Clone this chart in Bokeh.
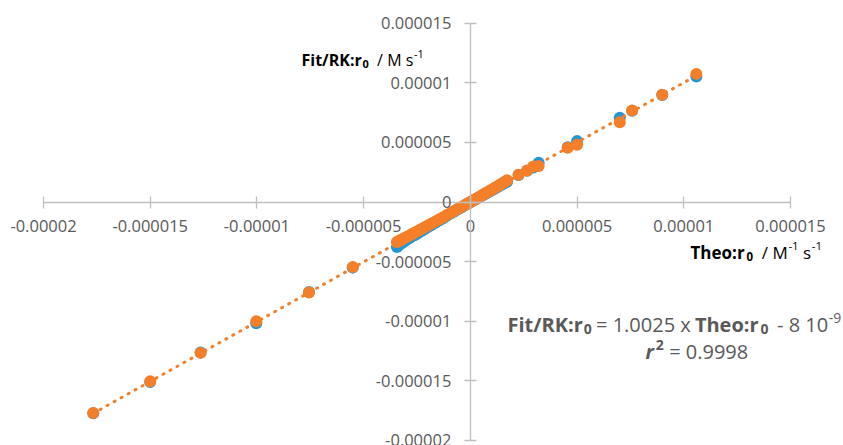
from bokeh.plotting import figure
from bokeh.models import Range1d, FixedTicker, Label, ColumnDataSource
from bokeh.embed import file_html
from bokeh.resources import INLINE

# ---------------- data ----------------
theo = [-17.67e-6, -15.00e-6, -12.64e-6, -10.03e-6, -7.56e-6, -5.51e-6,
        -3.44e-6, -3.38e-6, -3.30e-6, -3.22e-6, -3.15e-6, -3.05e-6, -2.95e-6, -2.85e-6,
        -2.75e-6, -2.62e-6, -2.50e-6, -2.38e-6, -2.25e-6, -2.10e-6, -1.95e-6, -1.80e-6,
        -1.62e-6, -1.45e-6, -1.28e-6, -1.10e-6, -0.92e-6, -0.75e-6, -0.58e-6, -0.42e-6,
        -0.28e-6, -0.15e-6, -0.05e-6,
        0.05e-6, 0.15e-6, 0.25e-6, 0.35e-6, 0.45e-6, 0.55e-6, 0.65e-6, 0.75e-6, 0.85e-6,
        0.95e-6, 1.05e-6, 1.15e-6, 1.25e-6, 1.35e-6, 1.48e-6, 1.60e-6, 1.72e-6,
        2.26e-6, 2.66e-6, 2.95e-6, 3.20e-6, 4.56e-6, 5.00e-6, 7.00e-6, 7.58e-6, 8.99e-6, 10.59e-6]

fit = [-17.72e-6, -15.10e-6, -12.62e-6, -10.16e-6, -7.55e-6, -5.50e-6,
       -3.78e-6, -3.66e-6, -3.55e-6, -3.45e-6, -3.36e-6, -3.24e-6, -3.13e-6, -3.02e-6,
       -2.90e-6, -2.78e-6, -2.66e-6, -2.52e-6, -2.38e-6, -2.22e-6, -2.06e-6, -1.90e-6,
       -1.72e-6, -1.53e-6, -1.36e-6, -1.16e-6, -0.97e-6, -0.79e-6, -0.61e-6, -0.45e-6,
       -0.30e-6, -0.17e-6, -0.06e-6,
       0.04e-6, 0.14e-6, 0.24e-6, 0.34e-6, 0.44e-6, 0.54e-6, 0.64e-6, 0.74e-6, 0.84e-6,
       0.94e-6, 1.04e-6, 1.14e-6, 1.24e-6, 1.34e-6, 1.47e-6, 1.59e-6, 1.71e-6,
       2.27e-6, 2.63e-6, 2.90e-6, 3.30e-6, 4.60e-6, 5.11e-6, 7.07e-6, 7.66e-6, 8.97e-6, 10.53e-6]

rk = [-17.70e-6, -15.03e-6, -12.65e-6, -9.99e-6, -7.59e-6, -5.44e-6,
      -3.35e-6, -3.30e-6, -3.22e-6, -3.15e-6, -3.08e-6, -2.98e-6, -2.90e-6, -2.80e-6,
      -2.70e-6, -2.58e-6, -2.46e-6, -2.35e-6, -2.22e-6, -2.08e-6, -1.93e-6, -1.78e-6,
      -1.60e-6, -1.44e-6, -1.27e-6, -1.09e-6, -0.91e-6, -0.74e-6, -0.57e-6, -0.42e-6,
      -0.27e-6, -0.15e-6, -0.05e-6,
      0.05e-6, 0.16e-6, 0.26e-6, 0.36e-6, 0.46e-6, 0.57e-6, 0.67e-6, 0.78e-6, 0.88e-6,
      0.98e-6, 1.08e-6, 1.19e-6, 1.30e-6, 1.40e-6, 1.55e-6, 1.68e-6, 1.82e-6,
      2.29e-6, 2.65e-6, 2.99e-6, 3.02e-6, 4.56e-6, 4.81e-6, 6.70e-6, 7.68e-6, 9.00e-6, 10.75e-6]

slope = 1.0025
intercept = -8e-9

tick_values = [-2e-5, -1.5e-5, -1e-5, -5e-6, 0, 5e-6, 1e-5, 1.5e-5]
tick_labels = ["-0.00002", "-0.000015", "-0.00001", "-0.000005", "0",
               "0.000005", "0.00001", "0.000015"]

# ---------------- layout ----------------
W, H = 843, 445
XS, XE = -2.2015e-5, 1.7483e-5
YS, YE = -2.0418e-5, 1.6904e-5

BLUE = "#2796D4"
ORANGE = "#F57F29"
GREY = "#595959"
AXIS = "#BFBFBF"
FONT = "Open Sans"

p = figure(width=W, height=H, x_range=Range1d(XS, XE), y_range=Range1d(YS, YE),
           output_backend="svg", toolbar_location=None, min_border=0)
p.grid.visible = False
p.outline_line_color = None
p.background_fill_color = "white"

overrides = {v: t for v, t in zip(tick_values, tick_labels)}
for ax in (p.xaxis[0], p.yaxis[0]):
    ax.fixed_location = 0
    ax.bounds = (tick_values[0], tick_values[-1])
    ax.ticker = FixedTicker(ticks=tick_values)
    ax.major_label_overrides = overrides
    ax.axis_line_color = AXIS
    ax.axis_line_width = 1.3
    ax.major_tick_line_color = AXIS
    ax.major_tick_line_width = 1.3
    ax.major_tick_in = 6
    ax.major_tick_out = 6
    ax.minor_tick_line_color = None
    ax.major_label_text_font = FONT
    ax.major_label_text_font_size = "16.5px"
    ax.major_label_text_color = GREY
p.xaxis[0].major_label_standoff = 12
p.yaxis[0].major_label_standoff = 13

src = ColumnDataSource(dict(theo=theo, fit=fit, rk=rk))
p.scatter("theo", "fit", source=src, size=12, fill_color=BLUE, line_color=None)
p.scatter("theo", "rk", source=src, size=12, fill_color=ORANGE, line_color=None)

xmin, xmax = min(theo), max(theo)
p.line([xmin, xmax], [slope * xmin + intercept, slope * xmax + intercept],
       line_color=ORANGE, line_width=3, line_dash="1 7", line_cap="round")


def X(px):
    return XS + px * (XE - XS) / W


def Y(py):
    return YE - py * (YE - YS) / H


REG = {' ': .26, '.': .266, '-': .322, '=': .572, 'x': .524, '/': .367, 'M': .907, 's': .48}
BOLD = {' ': .26, 'F': .575, 'i': .301, 't': .419, '/': .434, 'R': .661, 'K': .638, ':': .29,
        'r': .464, 'T': .581, 'h': .675, 'e': .604, 'o': .647}


def width(text, size, style):
    table = BOLD if "bold" in style else REG
    return sum(table.get(c, .6 if "bold" in style else .572) for c in text) * size


def run(text, px, py, size, style="normal", color=GREY):
    p.add_layout(Label(x=X(px), y=Y(py), text=text, text_font=FONT,
                       text_font_size=f"{size}px", text_font_style=style,
                       text_color=color, text_baseline="alphabetic", text_align="left"))


def layout(runs, x0, base, color):
    x = x0
    for text, size, style, dy, gap in runs:
        x += gap
        run(text, x, base + dy, size, style, color)
        x += width(text, size, style)


TITLE = "#000000"
# y-axis title
layout([("Fit/RK:r", 16, "bold", 0, 0), ("0", 11, "bold", 4, 0.5),
        ("/ M s", 16, "normal", 0, 8), ("-1", 11, "normal", -6, 0.5)], 301, 59, TITLE)
# x-axis title
layout([("Theo:r", 17, "bold", 0, 0), ("0", 11.5, "bold", 4, 0.5),
        ("/ M", 17, "normal", 0, 8.5), ("-1", 11.5, "normal", -6.5, 0.5),
        ("s", 17, "normal", 0, 4.4), ("-1", 11.5, "normal", -6.5, 0.5)], 690, 252, TITLE)
# regression equation
layout([("Fit/RK:r", 20, "bold", 0, 0), ("0", 14, "bold", 4, 0.5),
        ("= 1.0025 x", 20, "normal", 0, 4), ("Theo:r", 20, "bold", 0, 4),
        ("0", 14, "bold", 4, 0.5), ("- 8 10", 20, "normal", 0, 8),
        ("-9", 14, "normal", -7, 0.5)], 507, 324, GREY)
layout([("r", 20, "bold italic", 0, 0), ("2", 14, "bold", -7, 1),
        ("= 0.9998", 20, "normal", 0, 5)], 645, 351, GREY)

open("out.html", "w").write(file_html(p, INLINE))
